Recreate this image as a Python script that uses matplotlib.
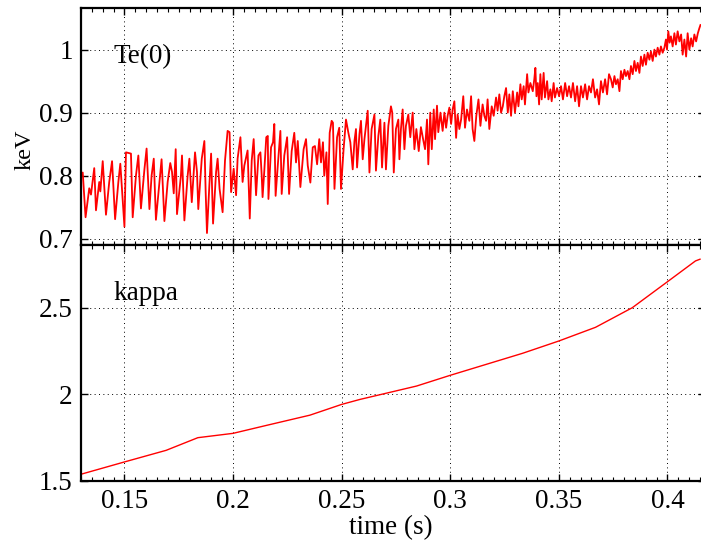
import matplotlib
matplotlib.use("Agg")
import matplotlib.pyplot as plt
from matplotlib.ticker import MultipleLocator
import numpy as np

plt.rcParams['font.family'] = ['Liberation Serif', 'DejaVu Serif']

# Te(0) trace (time in s, keV)
te_t = [0.1300, 0.1308, 0.1321, 0.1338, 0.1346, 0.1361, 0.1369, 0.1384, 0.1389, 0.1400,
        0.1415, 0.1430, 0.1443, 0.1457, 0.1472, 0.1481, 0.1500, 0.1507, 0.1530, 0.1538,
        0.1553, 0.1564, 0.1576, 0.1592, 0.1602, 0.1615, 0.1625, 0.1635, 0.1645, 0.1661,
        0.1671, 0.1684, 0.1699, 0.1711,
        0.1719, 0.1727, 0.1736, 0.1742, 0.1760, 0.1765, 0.1776, 0.1791, 0.1799, 0.1810,
        0.1825, 0.1834, 0.1840, 0.1856, 0.1868, 0.1874, 0.1880, 0.1891, 0.1899, 0.1908,
        0.1922, 0.1929, 0.1938, 0.1952, 0.1963, 0.1975, 0.1984, 0.1991, 0.2003, 0.2014,
        0.2021, 0.2034, 0.2044, 0.2052, 0.2067, 0.2077, 0.2086, 0.2095, 0.2106, 0.2117,
        0.2126,
        0.2132, 0.2136, 0.2144, 0.2153, 0.2160, 0.2163, 0.2175, 0.2184, 0.2190, 0.2196,
        0.2206, 0.2218, 0.2224, 0.2236, 0.2249, 0.2258, 0.2270, 0.2282, 0.2290, 0.2298,
        0.2310, 0.2325, 0.2336, 0.2344, 0.2356, 0.2367, 0.2377, 0.2387, 0.2397, 0.2405,
        0.2414, 0.2420, 0.2430, 0.2436, 0.2445, 0.2454, 0.2460, 0.2467, 0.2479, 0.2489,
        0.2497, 0.2509, 0.2520, 0.2531, 0.2540,
        0.2551, 0.2559, 0.2566, 0.2571, 0.2582, 0.2589, 0.2597, 0.2605, 0.2612, 0.2620,
        0.2628, 0.2638, 0.2651, 0.2658, 0.2669, 0.2678, 0.2686, 0.2697, 0.2704, 0.2715,
        0.2727, 0.2733, 0.2740, 0.2750, 0.2761, 0.2766, 0.2773, 0.2781, 0.2789, 0.2796,
        0.2807, 0.2816, 0.2827, 0.2835, 0.2844, 0.2855, 0.2865, 0.2875, 0.2884, 0.2893,
        0.2899, 0.2908, 0.2915, 0.2924, 0.2930, 0.2939, 0.2945, 0.2955,
        0.2965, 0.2973, 0.2981, 0.2988, 0.2996, 0.3004, 0.3011, 0.3019, 0.3027, 0.3034,
        0.3042, 0.3050, 0.3060, 0.3068, 0.3077, 0.3088, 0.3096, 0.3103, 0.3111, 0.3120,
        0.3130, 0.3139, 0.3149, 0.3157, 0.3165, 0.3172, 0.3180, 0.3191, 0.3200, 0.3211,
        0.3218, 0.3226, 0.3234, 0.3242, 0.3249, 0.3257, 0.3265, 0.3272, 0.3280, 0.3288,
        0.3298, 0.3308, 0.3314, 0.3323, 0.3329, 0.3338, 0.3344, 0.3354, 0.3360, 0.3369,
        0.3380, 0.3387, 0.3392, 0.3397, 0.3403, 0.3409, 0.3415, 0.3421, 0.3430, 0.3436,
        0.3446, 0.3452, 0.3461, 0.3467, 0.3476, 0.3482, 0.3492, 0.3501, 0.3510, 0.3519,
        0.3529, 0.3538, 0.3547, 0.3556, 0.3565, 0.3575, 0.3584, 0.3593, 0.3602, 0.3611,
        0.3621, 0.3630, 0.3639, 0.3648, 0.3657, 0.3667, 0.3676, 0.3685, 0.3694, 0.3703,
        0.3713, 0.3722, 0.3731,
        0.3740, 0.3748, 0.3756, 0.3763, 0.3771, 0.3779, 0.3786, 0.3794, 0.3802, 0.3809,
        0.3817, 0.3825, 0.3832, 0.3840, 0.3848, 0.3855, 0.3863, 0.3871, 0.3878, 0.3886,
        0.3894, 0.3901, 0.3909, 0.3917, 0.3924, 0.3932, 0.3940, 0.3947, 0.3955, 0.3963,
        0.3970, 0.3978, 0.3986, 0.3993, 0.3998, 0.4004, 0.4010, 0.4016, 0.4024, 0.4032,
        0.4039, 0.4047, 0.4055, 0.4063, 0.4070, 0.4078, 0.4086, 0.4093, 0.4101, 0.4109,
        0.4116, 0.4124, 0.4132, 0.4140, 0.4147, 0.4152]
te_v = [0.800, 0.805, 0.734, 0.780, 0.770, 0.812, 0.745, 0.790, 0.775, 0.823,
        0.738, 0.790, 0.823, 0.731, 0.790, 0.819, 0.719, 0.837, 0.835, 0.734,
        0.800, 0.832, 0.748, 0.810, 0.843, 0.747, 0.800, 0.827, 0.730, 0.790,
        0.826, 0.728, 0.790, 0.820,
        0.806, 0.772, 0.842, 0.739, 0.800, 0.832, 0.729, 0.800, 0.827, 0.758,
        0.837, 0.806, 0.747, 0.827, 0.855, 0.774, 0.709, 0.785, 0.835, 0.724,
        0.806, 0.827, 0.779, 0.742, 0.824, 0.871, 0.869, 0.774, 0.811, 0.769,
        0.827, 0.861, 0.790, 0.816, 0.840, 0.732, 0.824, 0.858, 0.769, 0.832,
        0.837,
        0.800, 0.766, 0.808, 0.861, 0.863, 0.763, 0.845, 0.853, 0.882, 0.768,
        0.816, 0.871, 0.771, 0.832, 0.861, 0.771, 0.839, 0.868, 0.821, 0.855,
        0.782, 0.842, 0.858, 0.816, 0.789, 0.845, 0.847, 0.818, 0.858, 0.821,
        0.853, 0.800, 0.837, 0.755, 0.868, 0.887, 0.884, 0.779, 0.861, 0.876,
        0.779, 0.842, 0.889, 0.868, 0.853,
        0.810, 0.855, 0.874, 0.813, 0.866, 0.887, 0.826, 0.858, 0.879, 0.903,
        0.805, 0.874, 0.897, 0.808, 0.863, 0.889, 0.813, 0.884, 0.810, 0.879,
        0.910, 0.900, 0.805, 0.874, 0.889, 0.826, 0.874, 0.905, 0.842, 0.879,
        0.897, 0.861, 0.900, 0.842, 0.874, 0.839, 0.877, 0.858, 0.842, 0.889,
        0.818, 0.900, 0.842, 0.905, 0.858, 0.911, 0.869, 0.900,
        0.871, 0.900, 0.876, 0.895, 0.908, 0.882, 0.905, 0.918, 0.860, 0.897,
        0.874, 0.889, 0.926, 0.876, 0.905, 0.887, 0.926, 0.874, 0.855, 0.895,
        0.921, 0.879, 0.913, 0.895, 0.887, 0.921, 0.874, 0.910, 0.895, 0.924,
        0.903, 0.929, 0.900, 0.910, 0.926, 0.939, 0.900, 0.929, 0.895, 0.934,
        0.900, 0.932, 0.910, 0.945, 0.921, 0.942, 0.913, 0.961, 0.932, 0.947,
        0.934, 0.953, 0.971, 0.926, 0.947, 0.913, 0.961, 0.921, 0.963, 0.924,
        0.950, 0.921, 0.937, 0.918, 0.947, 0.924, 0.939, 0.926, 0.942, 0.921,
        0.947, 0.926, 0.942, 0.924, 0.947, 0.918, 0.942, 0.910, 0.942, 0.924,
        0.945, 0.921, 0.942, 0.932, 0.953, 0.924, 0.937, 0.913, 0.950, 0.932,
        0.953, 0.929, 0.961,
        0.953, 0.940, 0.958, 0.945, 0.953, 0.934, 0.966, 0.953, 0.968, 0.958,
        0.966, 0.953, 0.974, 0.961, 0.982, 0.966, 0.979, 0.963, 0.989, 0.974,
        0.992, 0.976, 0.995, 0.984, 0.997, 0.982, 1.000, 0.989, 1.003, 0.992,
        1.005, 0.995, 1.003, 1.016, 1.000, 1.029, 1.011, 1.021, 1.005, 1.026,
        1.008, 1.029, 1.013, 1.024, 0.992, 1.016, 0.989, 1.026, 1.000, 1.018,
        1.005, 1.024, 1.013, 1.026, 1.034, 1.039]

# kappa trace
kappa_t = [0.130, 0.150, 0.1692, 0.1838, 0.200, 0.2154, 0.2354, 0.250, 0.2585, 0.2845,
           0.300, 0.3333, 0.350, 0.3669, 0.3838, 0.400, 0.4129, 0.415]
kappa_v = [1.539, 1.610, 1.677, 1.750, 1.775, 1.821, 1.880, 1.942, 1.971, 2.048,
           2.110, 2.237, 2.308, 2.387, 2.500, 2.650, 2.770, 2.780]

fs = 19.5
W, H = 701, 546
x_right = 705  # right spine sits just outside the picture
fig = plt.figure(figsize=(W / 100, H / 100), dpi=100)
ax1 = fig.add_axes([81 / W, 1 - 245 / H, (x_right - 81) / W, (245 - 8) / H])
ax2 = fig.add_axes([81 / W, 1 - 481 / H, (x_right - 81) / W, (481 - 245) / H], sharex=ax1)

ax1.plot(te_t, te_v, color='red', linewidth=1.3)
ax2.plot(kappa_t, kappa_v, color='red', linewidth=1.0)

ax1.set_xlim(0.13, 0.13 + (x_right - 81) * 0.05 / 108.6)
ax1.set_ylim(0.69, 1.066)
ax2.set_ylim(1.5, 2.862)

ax1.set_yticks([0.7, 0.8, 0.9, 1.0])
ax1.set_yticklabels(['0.7', '0.8', '0.9', '1'])
ax2.set_yticks([1.5, 2.0, 2.5])
ax2.set_yticklabels(['1.5', '2', '2.5'])
ax2.set_xticks([0.15, 0.2, 0.25, 0.3, 0.35, 0.4])
ax2.set_xticklabels(['0.15', '0.2', '0.25', '0.3', '0.35', '0.4'])
ax2.xaxis.set_minor_locator(MultipleLocator(0.005))

for ax in (ax1, ax2):
    ax.grid(True, color='black', linestyle=(0, (1, 3.5)), linewidth=0.7)
    ax.tick_params(direction='in', length=5, width=1, labelsize=fs, top=True, right=True, pad=6)
    ax.tick_params(which='minor', direction='in', length=3, width=0.8, top=True)
    for s in ax.spines.values():
        s.set_linewidth(1.6)
ax1.tick_params(axis='x', which='both', labelbottom=False)

ax1.text(113 / W, 1 - 57 / H, 'Te(0)', transform=fig.transFigure, fontsize=fs, va='center')
ax2.text(113 / W, 1 - 293 / H, 'kappa', transform=fig.transFigure, fontsize=fs, va='center')

fig.text(25 / W, 1 - 150 / H, 'keV', rotation=90, fontsize=17.5, ha='center', va='center')
fig.text(391 / W, 1 - 528 / H, 'time (s)', fontsize=fs, ha='center', va='center')

fig.savefig('out.png', dpi=100)
